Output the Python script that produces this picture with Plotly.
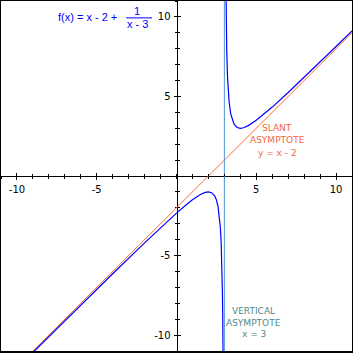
import plotly.graph_objects as go

# ---- data ----
# left branch of f(x) = x - 2 + 1/(x - 3)
left_x = [-11, -10, -9, -8, -6, -4, -2, -1, 0, 0.5, 1, 1.5, 1.8, 2, 2.2, 2.4, 2.5, 2.6, 2.7, 2.75, 2.8, 2.85, 2.88, 2.9, 2.92]
left_y = [-13.071, -12.077, -11.083, -10.091, -8.111, -6.143, -4.2, -3.25, -2.333, -1.9, -1.5, -1.167, -1.033, -1.0, -1.05, -1.267, -1.5, -1.9, -2.633, -3.25, -4.2, -5.817, -7.453, -9.1, -11.58]
# right branch
right_x = [3.08, 3.1, 3.12, 3.15, 3.2, 3.25, 3.3, 3.4, 3.5, 3.6, 3.8, 4, 4.2, 4.5, 5, 5.5, 6, 7, 8, 9, 10, 11]
right_y = [13.58, 11.1, 9.453, 7.817, 6.2, 5.25, 4.633, 3.9, 3.5, 3.267, 3.05, 3.0, 3.033, 3.167, 3.5, 3.9, 4.333, 5.25, 6.2, 7.167, 8.143, 9.125]
# slant asymptote y = x - 2
slant_x = [-11, 11]
slant_y = [-13, 9]
# vertical asymptote x = 3
vert_x = [3, 3]
vert_y = [-11, 11]

tick_vals = [-10, -5, 5, 10]
tick_text = ["-10", "-5", "5", "10"]

BLUE = "#0000FF"
ORANGE = "#FF6A30"
VLINE = "#4F95D6"
SLANT_TXT = "#EE6A3C"
VERT_TXT = "#4F8A8B"
FONT = "DejaVu Sans"
FFONT = "Liberation Sans"

fig = go.Figure()
fig.add_trace(go.Scatter(x=slant_x, y=slant_y, mode="lines",
                         line=dict(color=ORANGE, width=1), hoverinfo="skip"))
fig.add_trace(go.Scatter(x=vert_x, y=vert_y, mode="lines", xaxis="x2", yaxis="y2",
                         line=dict(color=VLINE, width=1), hoverinfo="skip"))
fig.add_trace(go.Scatter(x=left_x, y=left_y, mode="lines",
                         line=dict(color=BLUE, width=1.2), hoverinfo="skip"))
fig.add_trace(go.Scatter(x=right_x, y=right_y, mode="lines",
                         line=dict(color=BLUE, width=1.2), hoverinfo="skip"))

common = dict(range=[-11, 11], showgrid=False, zeroline=False, fixedrange=True,
              anchor="free", position=0.5, automargin=False)

fig.update_layout(
    width=353, height=353,
    margin=dict(l=1, r=1, t=1, b=2, autoexpand=False),
    paper_bgcolor="black", plot_bgcolor="white",
    showlegend=False,
    font=dict(family=FONT, size=9, color="black"),
    xaxis=dict(**common, showline=True, linecolor="black", linewidth=1,
               tickmode="array", tickvals=tick_vals, ticktext=tick_text,
               ticks="outside", ticklen=3, tickcolor="black", tickwidth=1,
               ticklabelstandoff=1,
               tickfont=dict(family=FONT, size=10, color="black"),
               minor=dict(tickmode="linear", tick0=0, dtick=1, ticks="outside",
                          ticklen=2, tickcolor="black", tickwidth=1),
               layer="below traces"),
    yaxis=dict(**common, showline=True, linecolor="black", linewidth=1,
               tickmode="array", tickvals=tick_vals, ticktext=tick_text,
               ticks="outside", ticklen=3, tickcolor="black", tickwidth=1,
               ticklabelstandoff=1,
               tickfont=dict(family=FONT, size=10, color="black"),
               minor=dict(tickmode="linear", tick0=0, dtick=1, ticks="outside",
                          ticklen=2, tickcolor="black", tickwidth=1),
               layer="below traces"),
    xaxis2=dict(**common, overlaying="x", matches="x", showline=False,
                tickmode="array", tickvals=tick_vals, showticklabels=False,
                ticks="inside", ticklen=3, tickcolor="black", tickwidth=1,
                minor=dict(tickmode="linear", tick0=0, dtick=1, ticks="inside",
                           ticklen=2, tickcolor="black", tickwidth=1)),
    yaxis2=dict(**common, overlaying="y", matches="y", showline=False,
                tickmode="array", tickvals=tick_vals, showticklabels=False,
                ticks="inside", ticklen=3, tickcolor="black", tickwidth=1,
                minor=dict(tickmode="linear", tick0=0, dtick=1, ticks="inside",
                           ticklen=2, tickcolor="black", tickwidth=1)),
)

def ann(x, y, text, color, size=9, xanchor="center", family=FONT):
    fig.add_annotation(x=x, y=y, xref="x", yref="y", text=text, showarrow=False,
                       xanchor=xanchor, yanchor="middle",
                       font=dict(family=family, size=size, color=color))

# formula
ann(-3.6, 9.97, "f(x) = x - 2 +", BLUE, size=11, xanchor="right", family=FFONT)
ann(-2.47, 10.36, "1", BLUE, size=11, family=FFONT)
ann(-2.47, 9.53, "x - 3", BLUE, size=11, family=FFONT)
fig.add_shape(type="line", xref="x", yref="y", x0=-3.16, x1=-1.53, y0=9.94, y1=9.94,
              line=dict(color=BLUE, width=1))

# slant asymptote label
ann(6.31, 3.03, "SLANT", SLANT_TXT)
ann(6.31, 2.24, "ASYMPTOTE", SLANT_TXT)
ann(6.31, 1.47, "y = x - 2", SLANT_TXT)

# vertical asymptote label
ann(4.84, -8.47, "VERTICAL", VERT_TXT)
ann(4.84, -9.22, "ASYMPTOTE", VERT_TXT)
ann(4.84, -9.91, "x = 3", VERT_TXT)

fig.write_html("out.html", config={"displayModeBar": False},
               post_script="document.body.style.margin='0';document.body.style.overflow='hidden';")
